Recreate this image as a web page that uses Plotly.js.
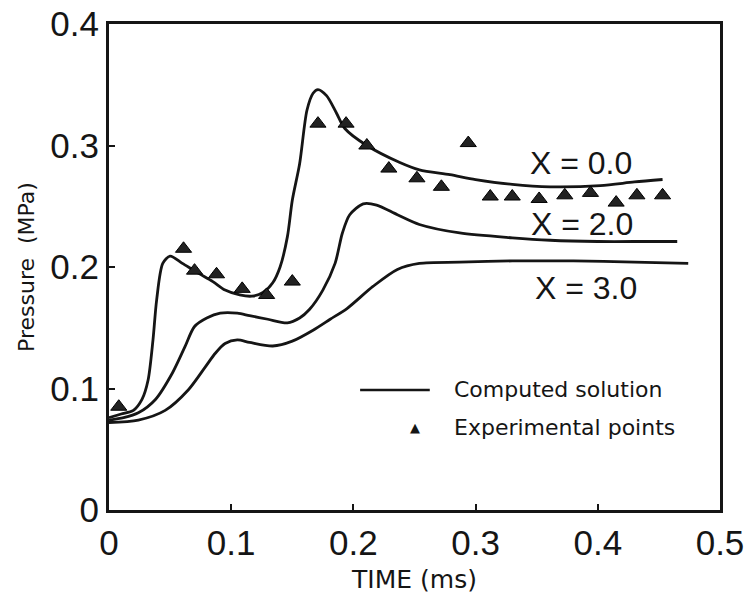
<!DOCTYPE html>
<html>
<head>
<meta charset="utf-8">
<script src="https://cdn.plot.ly/plotly-3.0.1.min.js"></script>
<style>html,body{margin:0;padding:0;background:#fff;}#chart{width:756px;height:598px;}</style>
</head>
<body>
<div id="chart"></div>
<script>
// Computed solution, X = 0.0
const timeX0 = [0, 0.01, 0.02, 0.027, 0.032, 0.036, 0.039, 0.044, 0.050, 0.060, 0.073, 0.085, 0.095, 0.107, 0.117, 0.126, 0.134, 0.140, 0.146, 0.150, 0.156, 0.162, 0.167, 0.171, 0.178, 0.186, 0.193, 0.211, 0.238, 0.254, 0.279, 0.30, 0.33, 0.361, 0.402, 0.43, 0.453];
const pressX0 = [0.076, 0.079, 0.082, 0.091, 0.107, 0.140, 0.173, 0.203, 0.209, 0.203, 0.195, 0.188, 0.181, 0.177, 0.176, 0.179, 0.187, 0.200, 0.225, 0.255, 0.285, 0.329, 0.343, 0.346, 0.341, 0.327, 0.314, 0.300, 0.286, 0.280, 0.276, 0.272, 0.268, 0.266, 0.267, 0.270, 0.272];
// Computed solution, X = 2.0
const timeX2 = [0, 0.012, 0.024, 0.038, 0.052, 0.062, 0.070, 0.080, 0.091, 0.105, 0.115, 0.130, 0.146, 0.156, 0.164, 0.175, 0.185, 0.191, 0.197, 0.208, 0.219, 0.236, 0.254, 0.287, 0.33, 0.361, 0.40, 0.44, 0.465];
const pressX2 = [0.074, 0.076, 0.080, 0.091, 0.113, 0.134, 0.151, 0.158, 0.162, 0.162, 0.160, 0.157, 0.154, 0.158, 0.165, 0.181, 0.203, 0.228, 0.243, 0.252, 0.251, 0.243, 0.235, 0.228, 0.224, 0.222, 0.221, 0.221, 0.221];
// Computed solution, X = 3.0
const timeX3 = [0, 0.024, 0.046, 0.065, 0.079, 0.087, 0.095, 0.105, 0.115, 0.134, 0.150, 0.167, 0.181, 0.195, 0.216, 0.236, 0.254, 0.287, 0.33, 0.38, 0.43, 0.474];
const pressX3 = [0.072, 0.074, 0.082, 0.099, 0.118, 0.129, 0.137, 0.140, 0.138, 0.135, 0.139, 0.148, 0.157, 0.166, 0.184, 0.198, 0.203, 0.204, 0.205, 0.205, 0.204, 0.203];
// Experimental points
const expTime = [0.008, 0.061, 0.070, 0.088, 0.109, 0.129, 0.150, 0.171, 0.194, 0.211, 0.229, 0.252, 0.272, 0.294, 0.312, 0.330, 0.352, 0.373, 0.394, 0.415, 0.432, 0.453];
const expPressure = [0.085, 0.215, 0.197, 0.194, 0.182, 0.177, 0.188, 0.318, 0.318, 0.300, 0.281, 0.273, 0.266, 0.302, 0.258, 0.258, 0.256, 0.259, 0.261, 0.253, 0.259, 0.259];
// Curve labels
const curveLabels = ["X = 0.0", "X = 2.0", "X = 3.0"];
const labelTime = [0.386, 0.387, 0.390];
const labelPressure = [0.286, 0.235, 0.183];
const xTicks = [0, 0.1, 0.2, 0.3, 0.4, 0.5];
const yTicks = [0, 0.1, 0.2, 0.3, 0.4];

const ink = '#151515';
const lineStyle = {color: ink, width: 2.8, shape: 'spline', smoothing: 0.8};

const traces = [
  {x: timeX0, y: pressX0, mode: 'lines', line: lineStyle, showlegend: false, hoverinfo: 'skip'},
  {x: timeX2, y: pressX2, mode: 'lines', line: lineStyle, showlegend: false, hoverinfo: 'skip'},
  {x: timeX3, y: pressX3, mode: 'lines', line: lineStyle, showlegend: false, hoverinfo: 'skip'},
  {x: expTime, y: expPressure, mode: 'markers', showlegend: false,
   marker: {symbol: 'triangle-up', size: 14, color: '#222', line: {color: '#000', width: 1}}}
];

const annotations = curveLabels.map((t, i) => ({
  x: labelTime[i], y: labelPressure[i], xref: 'x', yref: 'y', text: t, showarrow: false,
  font: {family: 'Liberation Sans', size: 32, color: ink}, xanchor: 'center', yanchor: 'middle'
}));
annotations.push(
  {x: 0.561, y: 0.247, xref: 'paper', yref: 'paper', text: 'Computed solution', showarrow: false,
   xanchor: 'left', yanchor: 'middle', font: {family: 'DejaVu Sans', size: 22, color: ink}},
  {x: 0.561, y: 0.169, xref: 'paper', yref: 'paper', text: 'Experimental points', showarrow: false,
   xanchor: 'left', yanchor: 'middle', font: {family: 'DejaVu Sans', size: 22, color: ink}},
  {x: 0.501, y: 0.169, xref: 'paper', yref: 'paper', text: '▲', showarrow: false,
   xanchor: 'center', yanchor: 'middle', font: {family: 'DejaVu Sans', size: 13, color: ink}}
);

const axisCommon = {
  showline: true, linewidth: 3, linecolor: ink, mirror: true,
  ticks: 'inside', ticklen: 6, tickwidth: 2, tickcolor: ink,
  showgrid: false, zeroline: false,
  tickfont: {family: 'Liberation Sans', size: 35, color: ink}
};

const layout = {
  width: 756, height: 598,
  margin: {l: 109, r: 36, t: 24, b: 88},
  paper_bgcolor: '#fff', plot_bgcolor: '#fff',
  xaxis: Object.assign({}, axisCommon, {
    range: [0, 0.5], tickvals: xTicks, ticktext: xTicks.map(String),
    title: {text: 'TIME (ms)', font: {family: 'DejaVu Sans', size: 25, color: ink}, standoff: 10}
  }),
  yaxis: Object.assign({}, axisCommon, {
    range: [0, 0.4], tickvals: yTicks, ticktext: yTicks.map(String),
    title: {text: 'Pressure\u00a0\u00a0(MPa)', font: {family: 'DejaVu Sans', size: 22, color: ink}, standoff: 10}
  }),
  shapes: [
    {type: 'line', xref: 'paper', yref: 'paper', x0: 0.411, x1: 0.525, y0: 0.247, y1: 0.247,
     line: {color: ink, width: 2.5}}
  ],
  annotations: annotations
};

Plotly.newPlot('chart', traces, layout, {displayModeBar: false, staticPlot: true});
</script>
</body>
</html>
